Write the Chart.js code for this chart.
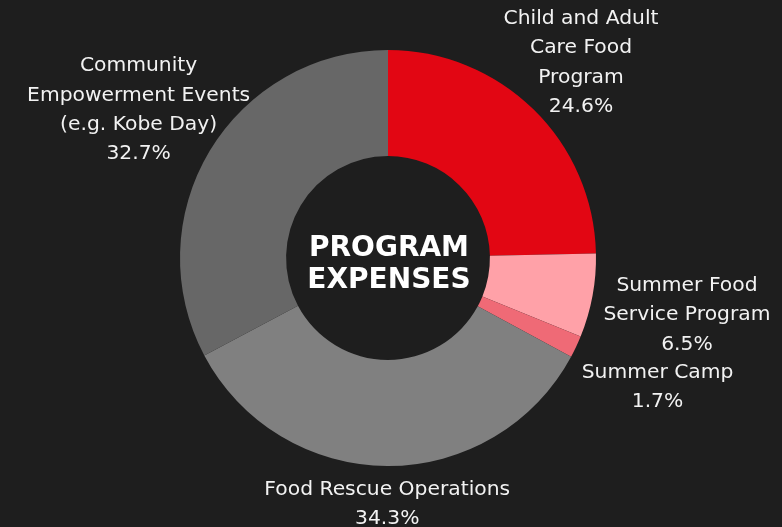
<!DOCTYPE html>
<html>
<head>
<meta charset="utf-8">
<script src="https://cdn.jsdelivr.net/npm/chart.js@4/dist/chart.umd.min.js"></script>
<style>
  html, body { margin: 0; padding: 0; background: #1e1e1e; }
  #wrap { width: 782px; height: 527px; position: relative; }
</style>
</head>
<body>
<div id="wrap"><canvas id="expChart"></canvas></div>
<script>
// Data
const categories = [
    ['Child and Adult', 'Care Food', 'Program'],
    ['Summer Food', 'Service Program'],
    ['Summer Camp'],
    ['Food Rescue Operations'],
    ['Community', 'Empowerment Events', '(e.g. Kobe Day)']
];
const shares = [24.6, 6.5, 1.7, 34.3, 32.7];
const sliceColors = ['#e20613', '#ffa1a8', '#ef6a76', '#808080', '#676767'];
const centerTitle = ['PROGRAM', 'EXPENSES'];

// label distance past the outer edge, per slice
const labelGap = [68, 96, 90, 36, 83];
const FONT = '"DejaVu Sans", sans-serif';

const sliceLabels = {
    id: 'sliceLabels',
    afterDatasetsDraw(chart) {
        const { ctx } = chart;
        const arcs = chart.getDatasetMeta(0).data;
        ctx.save();
        ctx.fillStyle = '#f2f2f2';
        ctx.textAlign = 'center';
        ctx.textBaseline = 'middle';
        ctx.font = '20.3px ' + FONT;
        arcs.forEach((arc, i) => {
            const mid = (arc.startAngle + arc.endAngle) / 2;
            const r = arc.outerRadius + labelGap[i];
            const cx = arc.x + Math.cos(mid) * r, cy = arc.y + Math.sin(mid) * r + 2;
            const lines = categories[i].concat([shares[i].toFixed(1) + '%']);
            const lh = 29.3;
            lines.forEach((t, j) => ctx.fillText(t, cx, cy + (j - (lines.length - 1) / 2) * lh));
        });
        // center title
        const a = arcs[0];
        ctx.fillStyle = '#ffffff';
        ctx.font = 'bold 28px ' + FONT;
        ctx.fillText(centerTitle[0], a.x + 1, a.y - 9);
        ctx.fillText(centerTitle[1], a.x + 1, a.y + 23);
        ctx.restore();
    }
};

new Chart(document.getElementById('expChart'), {
    type: 'doughnut',
    data: {
        labels: categories.map(c => c.join(' ')),
        datasets: [{
            data: shares,
            backgroundColor: sliceColors,
            borderWidth: 0
        }]
    },
    options: {
        responsive: true,
        maintainAspectRatio: false,
        animation: false,
        cutout: '49%',
        layout: { padding: { top: 50, bottom: 61, left: 180, right: 186 } },
        plugins: { legend: { display: false }, tooltip: { enabled: false } }
    },
    plugins: [sliceLabels]
});
</script>
</body>
</html>
